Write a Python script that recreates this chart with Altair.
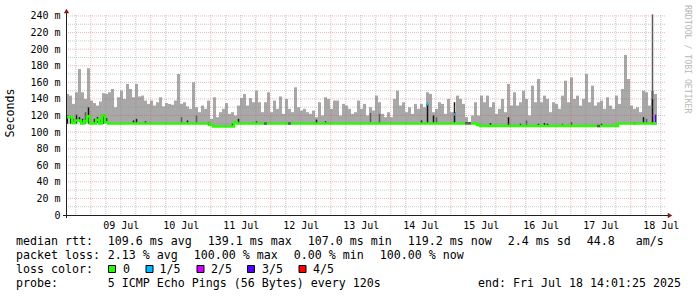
import json
import altair as alt
import pandas as pd

# ---------------- axis / label data ----------------
DAY_LABELS = ["09 Jul", "10 Jul", "11 Jul", "12 Jul", "13 Jul",
              "14 Jul", "15 Jul", "16 Jul", "17 Jul", "18 Jul"]
# hours after 09 Jul 00:00
LABEL_HOURS = [12, 36, 60, 84, 108, 132, 156, 180, 204, 228]
MIDNIGHT_HOURS = [0, 24, 48, 72, 96, 120, 144, 168, 192, 216]
SIX_HOUR_HOURS = [-6, 6, 12, 18, 30, 36, 42, 54, 60, 66, 78, 84, 90, 102, 108,
                  114, 126, 132, 138, 150, 156, 162, 174, 180, 186, 198, 204,
                  210, 222, 228]
Y_TICKS = [0, 20, 40, 60, 80, 100, 120, 140, 160, 180, 200, 220, 240]
Y_TICK_LABELS = ["0\u00a0\u00a0", "20 m", "40 m", "60 m", "80 m", "100 m", "120 m",
                 "140 m", "160 m", "180 m", "200 m", "220 m", "240 m"]
Y_MINOR = [10, 30, 50, 70, 90, 110, 130, 150, 170, 190, 210, 230]

X_DOMAIN = [-9.9, 230.1]
Y_DOMAIN = [0, 241.2]
SAMPLE_START_H = -9.9
SAMPLE_STEP_H = 1.2

# ---------------- smoke (max rtt per sample column, ms) ----------------
SMOKE_TOP = [
    146, 144, 134, 148, 176, 148, 140, 177, 138, 135,
    132, 137, 147, 146, 148, 152, 130, 142, 150, 140,
    158, 152, 142, 158, 143, 144, 138, 134, 138, 132,
    136, 142, 131, 135, 134, 133, 138, 170, 134, 136,
    131, 128, 160, 130, 124, 132, 128, 138, 116, 142,
    118, 124, 128, 135, 122, 124, 120, 132, 141, 146,
    132, 141, 136, 150, 136, 124, 136, 148, 124, 138,
    128, 143, 122, 140, 128, 124, 154, 130, 126, 128,
    124, 122, 126, 118, 136, 120, 142, 140, 128, 138,
    138, 120, 134, 132, 128, 122, 124, 138, 128, 134,
    120, 130, 126, 144, 136, 122, 118, 124, 118, 140,
    150, 132, 136, 124, 130, 122, 134, 128, 134, 130,
    148, 146, 124, 128, 136, 134, 122, 140, 124, 124,
    144, 140, 134, 118, 112, 120, 136, 120, 144, 136,
    144, 130, 136, 122, 128, 140, 124, 158, 132, 148,
    132, 136, 150, 140, 120, 156, 136, 164, 136, 144,
    140, 124, 136, 134, 128, 144, 162, 136, 166, 140,
    144, 132, 140, 170, 136, 156, 132, 136, 138, 128,
    142, 132, 128, 144, 134, 152, 193, 164, 132, 128,
    130, 124, 150, 148, 132, 150, 146,
]

# ---------------- median rtt segments (sample columns) ----------------
MED_START = [0, 2, 3, 5, 6, 7, 8, 10, 11, 12, 13, 14, 48, 49, 56, 57, 66, 67,
             74, 75, 133, 135, 137, 138, 177, 178, 184]
MED_END = [2, 3, 5, 6, 7, 8, 10, 11, 12, 13, 14, 48, 49, 56, 57, 66, 67, 74,
           75, 133, 135, 137, 138, 177, 178, 184, 197]
MED_VAL = [118, 111, 114, 110.3, 113, 119, 110.3, 115, 110.3, 120, 112, 110.3,
           108.5, 106.8, 112, 110.3, 110.3, 110.3, 110.3, 110.3, 110.6, 110.3,
           108.5, 107.3, 107.3, 107.3, 110.5]
MED_LOSS = [0, 0, 0, 0, 0, 0, 0, 0, 0, 0, 0, 0, 0, 0, 0, 0, 1, 0, 1, 0, 1, 0,
            0, 0, 1, 0, 0]

# ---------------- dark smoke / loss bits ----------------
DARK_COL = [0, 1, 2, 3, 4, 5, 6, 7, 9, 10, 11, 12, 13, 22, 23, 26, 38, 40, 43,
            47, 55, 57, 63, 83, 86, 101, 104, 118, 120, 120, 122, 123, 129, 129,
            141, 147, 151, 153, 157, 159, 160, 165, 168, 178, 189, 192, 193, 195,
            195, 196, 196]
DARK_LO = [110, 110, 110, 110, 112, 110, 110, 110, 110, 111, 110, 110, 111, 110,
           110, 110, 110, 110, 110, 108, 106, 110, 110, 110, 110, 112, 110, 110,
           110, 132, 110, 110, 110, 120, 107, 107, 107, 107, 107, 107, 107, 107,
           107, 107, 109, 110, 110, 140, 109, 112, 109]
DARK_HI = [120, 117, 116, 121, 118, 116, 124, 130, 116, 118, 115, 121, 117, 114,
           116, 113, 118, 114, 120, 112, 110, 116, 113, 115, 113, 123, 122, 114,
           134, 136, 120, 118, 136, 123, 111, 118, 110, 114, 110, 111, 110, 110,
           112, 110, 112, 118, 116, 242, 140, 121, 111]
DARK_KIND = ["k", "k", "g", "k", "k", "k", "g", "k", "k", "k", "g", "k", "k", "k",
             "k", "k", "g", "k", "g", "k", "k", "k", "k", "k", "k", "g", "g", "k",
             "k", "c", "k", "g", "k", "c", "k", "k", "k", "g", "k", "k", "k", "g",
             "g", "k", "k", "k", "g", "g", "k", "p", "c"]
DARK_KIND_DOMAIN = ["k", "g", "c", "p"]
DARK_KIND_COLORS = ["#141414", "#5a5a5a", "#00b8ff", "#5a00ff"]

LOSS_LABELS = ["0", "1/5", "2/5", "3/5", "4/5"]
LOSS_COLORS = ["#26ff00", "#00b8ff", "#cc00ff", "#5500ff", "#ff0000"]

# ---------------- legend text ----------------
LINE1 = ["median rtt:", "109.6 ms avg", "139.1 ms max", "107.0 ms min",
         "119.2 ms now", "2.4 ms sd", "44.8", "am/s"]
LINE2 = ["packet loss:", "2.13 % avg", "100.00 % max", "0.00 % min", "100.00 % now"]
LINE3_LEAD = "loss color:"
LINE4 = ["probe:", "5 ICMP Echo Pings (56 Bytes) every 120s",
         "end: Fri Jul 18 14:01:25 2025"]
Y_TITLE = "Seconds"
WATERMARK = "RRDTOOL / TOBI OETIKER"

# ---------------- layout (page pixels) ----------------
PAD_L, PAD_T = 66, 15
W, H = 600, 200
LINE1_X = [16, 107.7, 207.7, 307.7, 407.7, 507.7, 586.7, 635.7]
LINE2_X = [16, 107.7, 193.7, 293.7, 379.7]
LINE4_X = [16, 107.7, 478]
BOX_X = [108.5, 146, 197, 247.5, 299]
BOX_TEXT_X = [123, 159.5, 211, 262, 313]
BASELINES = [245, 259, 273, 287]
MONO = "DejaVu Sans Mono"
FS = 11.63

xs = alt.Scale(domain=X_DOMAIN, nice=False, zero=False)
ys = alt.Scale(domain=Y_DOMAIN, nice=False, zero=False)

x_axis = alt.Axis(values=LABEL_HOURS,
                  labelExpr=json.dumps(DAY_LABELS) + "[floor(datum.value / 24)]",
                  grid=False, ticks=False, domain=False, title=None,
                  labelFont=MONO, labelFontSize=10, labelColor="black",
                  labelPadding=5, labelAngle=0, labelOverlap=False, labelFlush=False)
y_axis = alt.Axis(values=Y_TICKS,
                  labelExpr=json.dumps(Y_TICK_LABELS, ensure_ascii=False) + "[round(datum.value / 20)]",
                  grid=False, ticks=False, tickSize=0, domain=False, title=None,
                  labelFont=MONO, labelFontSize=10, labelColor="black",
                  labelPadding=6, labelOverlap=False, labelFlush=False)


def X(field):
    return alt.X(field, scale=xs, axis=x_axis, title=None)


def Y(field):
    return alt.Y(field, scale=ys, axis=y_axis, title=None)


# median by column
n = len(SMOKE_TOP)
med_col = [None] * max(n, max(MED_END))
for s, e, v in zip(MED_START, MED_END, MED_VAL):
    for i in range(s, e):
        med_col[i] = v

smoke_df = pd.DataFrame({
    "h0": [SAMPLE_START_H + i * SAMPLE_STEP_H for i in range(n)],
    "h1": [SAMPLE_START_H + (i + 1) * SAMPLE_STEP_H for i in range(n)],
    "lo": [med_col[i] if med_col[i] is not None else 110 for i in range(n)],
    "hi": SMOKE_TOP,
})

line_rows = []
k = 0
for s, e, v in zip(MED_START, MED_END, MED_VAL):
    line_rows.append({"h": SAMPLE_START_H + s * SAMPLE_STEP_H, "v": v, "o": k}); k += 1
    line_rows.append({"h": SAMPLE_START_H + e * SAMPLE_STEP_H, "v": v, "o": k}); k += 1
line_df = pd.DataFrame(line_rows)

loss_df = pd.DataFrame({
    "h0": [SAMPLE_START_H + s * SAMPLE_STEP_H for s in MED_START],
    "h1": [SAMPLE_START_H + e * SAMPLE_STEP_H for e in MED_END],
    "v": MED_VAL,
    "loss": [LOSS_LABELS[l] for l in MED_LOSS],
})
loss_df = loss_df[loss_df["loss"] != "0"]

dark_df = pd.DataFrame({
    "h": [SAMPLE_START_H + (c + 0.5) * SAMPLE_STEP_H for c in DARK_COL],
    "lo": DARK_LO, "hi": DARK_HI, "kind": DARK_KIND,
})

smoke = alt.Chart(smoke_df).mark_rect(color="#a8a8a8").encode(
    x=X("h0:Q"), x2="h1:Q", y=Y("lo:Q"), y2="hi:Q")

dark = alt.Chart(dark_df).mark_rule(strokeWidth=1.5).encode(
    x=X("h:Q"), y=Y("lo:Q"), y2="hi:Q",
    color=alt.Color("kind:N", scale=alt.Scale(domain=DARK_KIND_DOMAIN, range=DARK_KIND_COLORS), legend=None))

median = alt.Chart(line_df).mark_line(color=LOSS_COLORS[0], strokeWidth=2.5).encode(
    x=X("h:Q"), y=Y("v:Q"), order="o:Q")

loss = alt.Chart(loss_df).mark_rule(strokeWidth=2.5).encode(
    x=X("h0:Q"), x2="h1:Q", y=Y("v:Q"),
    color=alt.Color("loss:N", scale=alt.Scale(domain=LOSS_LABELS, range=LOSS_COLORS), legend=None))

MAJOR = dict(color="#dd5050", opacity=0.42, strokeDash=[1, 1], strokeWidth=1)
MINOR = dict(color="#8c8c8c", opacity=0.45, strokeDash=[1, 1], strokeWidth=1)

vminor = alt.Chart(pd.DataFrame({"h": SIX_HOUR_HOURS})).mark_rule(**MINOR).encode(
    x=X("h:Q"), y=alt.value(0), y2=alt.value(H))
vmajor = alt.Chart(pd.DataFrame({"h": MIDNIGHT_HOURS})).mark_rule(**MAJOR).encode(
    x=X("h:Q"), y=alt.value(0), y2=alt.value(H))
hminor = alt.Chart(pd.DataFrame({"v": Y_MINOR})).mark_rule(**MINOR).encode(
    y=Y("v:Q"), x=alt.value(0), x2=alt.value(W))
hmajor = alt.Chart(pd.DataFrame({"v": Y_TICKS[1:]})).mark_rule(**MAJOR).encode(
    y=Y("v:Q"), x=alt.value(0), x2=alt.value(W))

one = pd.DataFrame({"a": [0]})
AXIS_COLOR = "#1f1f1f"
ARROW_COLOR = "#7f1f1f"
xline = alt.Chart(one).mark_rule(color=AXIS_COLOR, strokeWidth=1).encode(
    x=alt.value(-3), x2=alt.value(W + 3), y=alt.value(H + 0.5))
yline = alt.Chart(one).mark_rule(color=AXIS_COLOR, strokeWidth=1).encode(
    x=alt.value(0.5), y=alt.value(H + 3), y2=alt.value(-4))
xarrow = alt.Chart(one).mark_point(shape="triangle-right", filled=True, color=ARROW_COLOR,
                                   size=28, opacity=1).encode(x=alt.value(W + 4), y=alt.value(H + 0.5))
yarrow = alt.Chart(one).mark_point(shape="triangle-up", filled=True, color=ARROW_COLOR,
                                   size=28, opacity=1).encode(x=alt.value(0.5), y=alt.value(-4))


def text_layer(s, px, py, size=FS, color="black", angle=0, align="left", baseline="alphabetic"):
    return alt.Chart(one).mark_text(font=MONO, fontSize=size, color=color, angle=angle,
                                    align=align, baseline=baseline).encode(
        x=alt.value(px - PAD_L), y=alt.value(py - PAD_T), text=alt.value(s))


texts = []
for s, x in zip(LINE1, LINE1_X):
    texts.append(text_layer(s, x, BASELINES[0]))
for s, x in zip(LINE2, LINE2_X):
    texts.append(text_layer(s, x, BASELINES[1]))
texts.append(text_layer(LINE3_LEAD, 16, BASELINES[2]))
for s, x in zip(LOSS_LABELS, BOX_TEXT_X):
    texts.append(text_layer(s, x, BASELINES[2]))
for s, x in zip(LINE4, LINE4_X):
    texts.append(text_layer(s, x, BASELINES[3]))
texts.append(text_layer(Y_TITLE, 11, 113, angle=270, align="center", baseline="middle"))
texts.append(text_layer(WATERMARK, 687, 5, size=8.2, color="#b8b8b8", angle=90,
                        align="left", baseline="middle"))

boxes = []
for c, x in zip(LOSS_COLORS, BOX_X):
    boxes.append(alt.Chart(one).mark_rect(fill=c, stroke="black", strokeWidth=1).encode(
        x=alt.value(x - PAD_L), x2=alt.value(x - PAD_L + 7),
        y=alt.value(265.5 - PAD_T), y2=alt.value(272.5 - PAD_T)))

chart = alt.layer(
    smoke, dark, median, loss, vminor, hminor, vmajor, hmajor,
    xline, yline, xarrow, yarrow, *texts, *boxes
).properties(
    width=W, height=H,
    autosize=alt.AutoSizeParams(type="none"),
    padding={"left": PAD_L, "top": PAD_T, "right": 697 - PAD_L - W, "bottom": 297 - PAD_T - H},
    background="white",
).configure_view(strokeWidth=0)

chart.save("out.html", embed_options={"renderer": "svg", "actions": False})
